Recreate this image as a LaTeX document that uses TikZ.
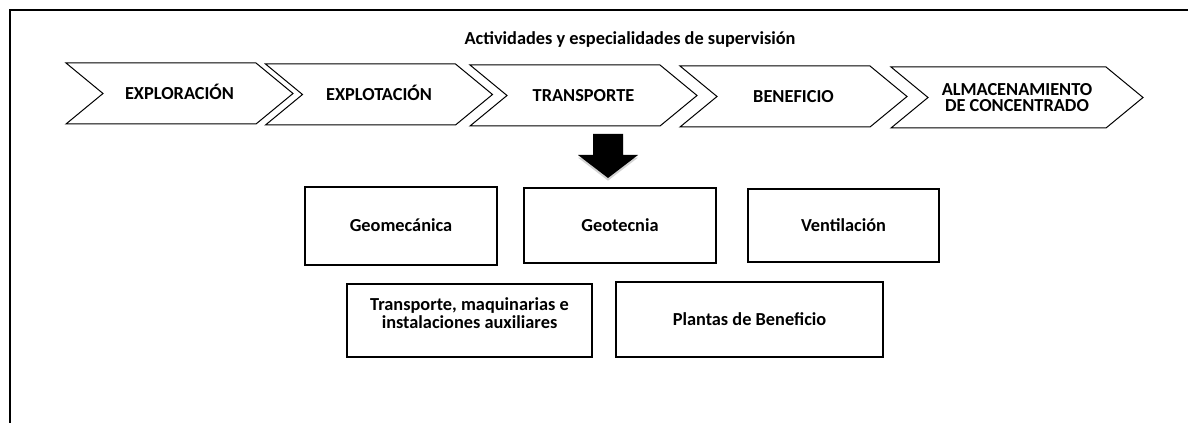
\documentclass[tikz,border=0pt]{standalone}
\usepackage{fontspec}
\setmainfont{Carlito}
\usetikzlibrary{shapes.symbols,shadows}

\newcommand\U{0.75pt}
\tikzset{
  stage/.style={draw, line width=0.75pt, signal, signal to=east, signal from=west,
    signal pointer angle=79, minimum height=61*\U, minimum width=227*\U,
    inner sep=0pt, align=center, text height=8.86pt, text depth=0pt,
    font=\bfseries\fontsize{13.75pt}{12pt}\selectfont},
  spectext/.style={inner sep=0pt, align=center,
    font=\bfseries\fontsize{13.75pt}{13.3pt}\selectfont},
  spec/.style={spectext, draw, line width=0.8pt, rectangle,
    text height=8.86pt, text depth=0pt},
}

\begin{document}
\begin{tikzpicture}[x=\U, y=-\U]
\useasboundingbox (0,0) rectangle (1188,423);

%% frame
\draw[line width=1.5pt] (10,423) -- (10,10) -- (1188,10);

\node (title) [font=\bfseries\fontsize{13.75pt}{16pt}\selectfont] at (630,40)
  {Actividades y especialidades de supervisión};

%% stages
\node (explor) [stage] at (179.5,93.5) {EXPLORACIÓN};
\node (explot) [stage] at (379,94.5) {EXPLOTACIÓN};
\node (transp) [stage] at (583.5,95.5) {TRANSPORTE};
\node (benef)  [stage] at (793.5,96.5) {BENEFICIO};
\node (almac)  [stage, minimum width=252*\U, text height=, text depth=] at (1017,97.5)
  {ALMACENAMIENTO\\DE CONCENTRADO};

%% block arrow
\fill[black, drop shadow={shadow xshift=0pt, shadow yshift=-2pt, fill=gray!70, opacity=0.5}]
  (593,134) -- (623,134) -- (623,155) -- (638,155) -- (608,178)
  -- (578,155) -- (593,155) -- cycle;

%% specialities
\node (geomec) [spec, minimum width=192*\U, minimum height=78*\U] at (401,226) {Geomecánica};
\node (geotec) [spec, minimum width=192*\U, minimum height=75*\U] at (620,225.5) {Geotecnia};
\node (ventil) [spec, minimum width=191*\U, minimum height=73*\U] at (843.5,225.5) {Ventilación};
\node (maquin) [spec, minimum width=245*\U, minimum height=73*\U,
  label={[spectext, yshift=7.5*\U]center:{Transporte, maquinarias e\\instalaciones auxiliares}}]
  at (469.5,320.5) {};
\node (planta) [spec, minimum width=267*\U, minimum height=75*\U] at (749.5,319.5) {Plantas de Beneficio};
\end{tikzpicture}
\end{document}
